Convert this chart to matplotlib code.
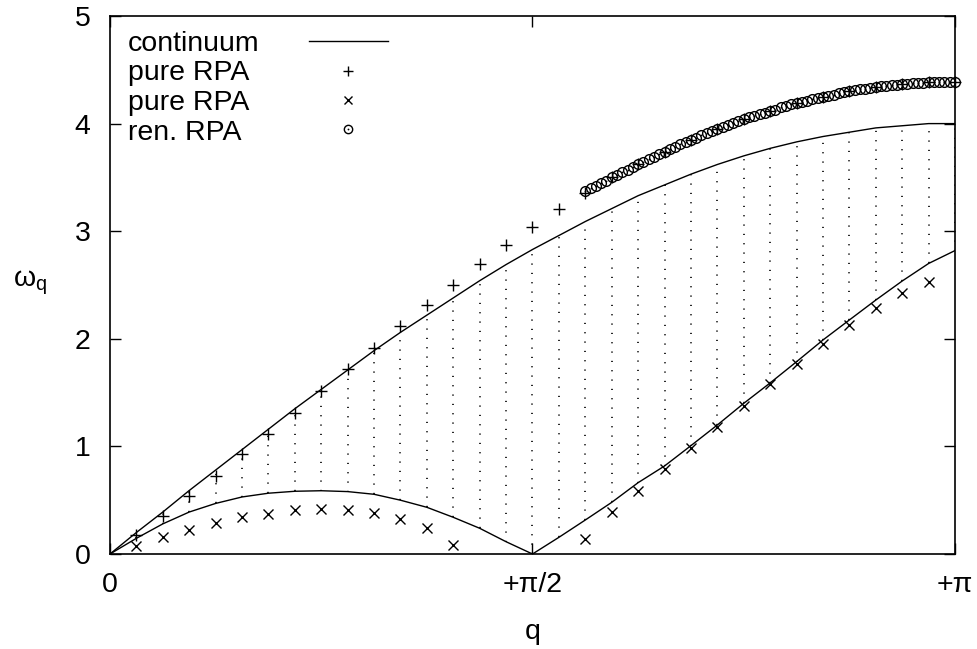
import numpy as np
import matplotlib
matplotlib.use("Agg")
import matplotlib.pyplot as plt
from matplotlib.lines import Line2D

plt.rcParams['font.family'] = ['Liberation Sans', 'DejaVu Sans']

# q grid index k -> q = k*pi/32
k_cont = list(range(0, 33))
upper = [0.00, 0.20, 0.39, 0.59, 0.78, 0.97, 1.16, 1.35, 1.53, 1.71, 1.89, 2.06, 2.22,
         2.38, 2.54, 2.69, 2.83, 2.96, 3.09, 3.21, 3.33, 3.43, 3.53, 3.62, 3.70, 3.77,
         3.83, 3.88, 3.92, 3.96, 3.98, 4.00, 4.00]
lower = [0.00, 0.146, 0.28, 0.39, 0.47, 0.53, 0.565, 0.583, 0.588, 0.58, 0.555, 0.50, 0.434,
         0.341, 0.239, 0.114, 0.00, 0.155, 0.316, 0.48, 0.663, 0.818, 1.007, 1.199, 1.40,
         1.59, 1.787, 1.989, 2.175, 2.36, 2.537, 2.70, 2.82]

k_plus = list(range(1, 33))
rpa_plus = [0.177, 0.356, 0.542, 0.728, 0.926, 1.115, 1.313, 1.518, 1.715, 1.917, 2.119,
            2.314, 2.503, 2.692, 2.869, 3.042, 3.203, 3.358, 3.50, 3.62, 3.74, 3.85,
            3.95, 4.04, 4.12, 4.19, 4.25, 4.30, 4.34, 4.37, 4.385, 4.39]

k_cross = [1, 2, 3, 4, 5, 6, 7, 8, 9, 10, 11, 12, 13,
           18, 19, 20, 21, 22, 23, 24, 25, 26, 27, 28, 29, 30, 31]
rpa_cross = [0.074, 0.155, 0.223, 0.285, 0.341, 0.372, 0.409, 0.415, 0.409, 0.378, 0.322,
             0.239, 0.084,
             0.139, 0.387, 0.589, 0.787, 0.988, 1.183, 1.378, 1.58, 1.763, 1.952, 2.125,
             2.283, 2.423, 2.525]

# renormalized RPA: index j -> q = j*pi/160, j = 90..160
j_ren = list(range(90, 161))
ren_rpa = [3.37, 3.40, 3.42, 3.45, 3.47,
           3.50, 3.52, 3.55, 3.57, 3.60,
           3.62, 3.64, 3.67, 3.69, 3.72,
           3.74, 3.76, 3.78, 3.81, 3.83,
           3.85, 3.87, 3.89, 3.91, 3.93,
           3.95, 3.97, 3.99, 4.01, 4.02,
           4.04, 4.06, 4.07, 4.09, 4.10,
           4.12, 4.13, 4.15, 4.16, 4.18,
           4.19, 4.20, 4.21, 4.23, 4.24,
           4.25, 4.26, 4.27, 4.28, 4.29,
           4.30, 4.31, 4.32, 4.32, 4.33,
           4.34, 4.35, 4.35, 4.36, 4.36,
           4.37, 4.37, 4.38, 4.38, 4.38,
           4.385, 4.39, 4.39, 4.39, 4.39,
           4.39]

legend_labels = ['continuum', 'pure RPA', 'pure RPA', 'ren. RPA']
xtick_vals = [0, np.pi / 2, np.pi]
xtick_labels = ['0', '+π/2', '+π']
ytick_vals = [0, 1, 2, 3, 4, 5]

W, H = 977, 649
FS = 20.5
fig = plt.figure(figsize=(W / 100, H / 100), dpi=100)
ax = fig.add_axes([110 / W, 95 / H, 845 / W, 538 / H])

qc = np.array(k_cont) * np.pi / 32
up = np.array(upper)
lo = np.array(lower)

# dotted continuum fill
for q, a, b in zip(qc, lo, up):
    ax.plot([q, q], [a, b], color='black', lw=1.2, linestyle=(0, (0.7, 4.9)),
            solid_capstyle='butt', zorder=1)

ax.plot(qc, up, color='black', lw=1.0, zorder=2)
ax.plot(qc, lo, color='black', lw=1.0, zorder=2)

ax.plot(np.array(k_plus) * np.pi / 32, rpa_plus, linestyle='none', marker='+',
        ms=9, mew=1.0, color='black', zorder=3, clip_on=False)
ax.plot(np.array(k_cross) * np.pi / 32, rpa_cross, linestyle='none', marker='x',
        ms=7, mew=1.0, color='black', zorder=3)
qr = np.array(j_ren) * np.pi / 160
ax.plot(qr, ren_rpa, linestyle='none', marker='o', ms=7, mfc='none', mec='black',
        mew=1.0, zorder=4, clip_on=False)
ax.plot(qr, ren_rpa, linestyle='none', marker='o', ms=1.3, mfc='black', mec='black',
        mew=0, zorder=5, clip_on=False)

ax.set_xlim(0, np.pi)
ax.set_ylim(0, 5)
ax.set_xticks(xtick_vals)
ax.set_xticklabels(xtick_labels)
ax.set_yticks(ytick_vals)
ax.tick_params(direction='in', length=8, width=1, labelsize=FS, top=True, right=True)
ax.tick_params(axis='x', pad=13)
ax.tick_params(axis='y', pad=14)
for s in ax.spines.values():
    s.set_linewidth(1.2)

ax.set_xlabel('q', fontsize=FS, labelpad=15)
fig.text(30 / W, 1 - 283 / H, 'ω$_\\mathregular{q}$', fontsize=FS, ha='center', va='center')


def fx(x):
    return x / W


def fy(y):
    return 1 - y / H


# legend drawn by hand (gnuplot style: left-justified text, sample on the right)
baselines = [51, 80.5, 110, 140]
for lab, yb in zip(legend_labels, baselines):
    fig.text(fx(128), fy(yb), lab, fontsize=FS, ha='left', va='baseline')
fig.add_artist(Line2D([fx(309), fx(388)], [fy(41), fy(41)], color='black', lw=1.0))
fig.add_artist(Line2D([fx(348)], [fy(71)], linestyle='none', marker='+', ms=7, mew=1.0,
                      color='black'))
fig.add_artist(Line2D([fx(348)], [fy(100)], linestyle='none', marker='x', ms=5.5, mew=1.0,
                      color='black'))
fig.add_artist(Line2D([fx(348)], [fy(129)], linestyle='none', marker='o', ms=6, mfc='none',
                      mec='black', mew=1.0))
fig.add_artist(Line2D([fx(348)], [fy(129)], linestyle='none', marker='o', ms=1.3,
                      mfc='black', mec='black', mew=0))

fig.savefig('out.png', dpi=100)
